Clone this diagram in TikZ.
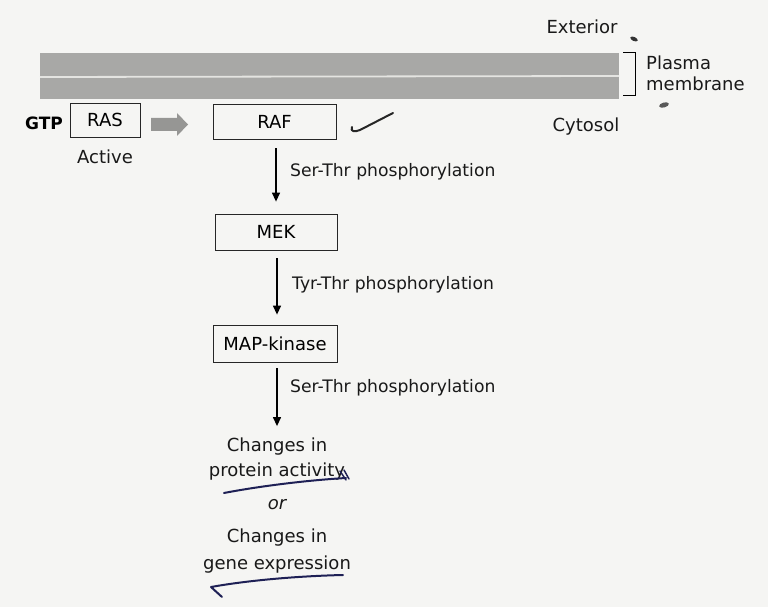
\documentclass[tikz,border=0pt]{standalone}
\usepackage{fontspec}
\setmainfont{DejaVu Sans}
\usetikzlibrary{arrows.meta}
\definecolor{paper}{RGB}{245,245,243}
\definecolor{membranegray}{RGB}{168,168,166}
\definecolor{membraneline}{RGB}{228,228,225}
\definecolor{inkblue}{RGB}{30,32,85}
\definecolor{arrowgray}{RGB}{150,150,148}
\begin{document}
\begin{tikzpicture}[x=1pt,y=-1pt,
  txt/.style={font=\fontsize{18}{20}\selectfont, inner sep=0pt, text=black!90},
  lab/.style={font=\fontsize{17.2}{20}\selectfont, inner sep=0pt, anchor=west, text=black!90},
  box/.style={draw=black!85, line width=0.8pt, inner sep=0pt, font=\fontsize{18}{20}\selectfont},
  flow/.style={-{Triangle[length=9pt,width=8pt]}, line width=1.3pt},
  pen/.style={line width=2pt, line cap=round, line join=round}]
\fill[paper] (0,0) rectangle (768,607);
\useasboundingbox (0,0) rectangle (768,607);
% membrane
\fill[membranegray] (40,53) rectangle (619,99);
\draw[membraneline, line width=1.8pt] (40,77) -- (619,76);
\coordinate (bt) at (623,53);
\coordinate (bb) at (623,96);
\draw[line width=1pt] (bt) -- ++(12,0) |- (bb);
\node[txt, anchor=west] (plasma) at (646,63) {Plasma};
\node[txt, anchor=west] (membr) at (646,84) {membrane};
\node[txt] (ext) at (582,27) {Exterior};
\node[txt] (cyto) at (586,127) {Cytosol};
% RAS / RAF
\node[font=\fontsize{17}{20}\selectfont\bfseries, inner sep=0pt] (gtp) at (44,123) {GTP};
\node[box, minimum width=70pt, minimum height=34pt] (ras) at (105,120) {RAS};
\node[txt] (active) at (105,157) {Active};
\coordinate (garrow) at (151,124.5);
\fill[arrowgray] (garrow) ++(0,-6.5) -- ++(26,0) -- ++(0,-5) -- ++(11,11.5) -- ++(-11,11.5) -- ++(0,-5) -- ++(-26,0) -- cycle;
\node[box, minimum width=123pt, minimum height=35pt] (raf) at (274.5,121.5) {RAF};
\node[box, minimum width=122pt, minimum height=36pt] (mek) at (276,232) {MEK};
\node[box, minimum width=124pt, minimum height=37pt] (map) at (275,343.5) {MAP-kinase};
\node[txt] (ch1) at (277,447) {Changes in};
\node[txt] (pa) at (277,472) {protein activity};
\node[txt, font=\fontsize{18}{20}\selectfont\itshape] (or) at (277,505) {or};
\node[txt] (ch2) at (277,538) {Changes in};
\node[txt] (ge) at (277,565) {gene expression};
% arrows
\draw[flow, shorten <=9pt, shorten >=12pt] (raf.south -| 276,0) -- (mek.north -| 276,0);
\draw[flow, shorten <=8pt, shorten >=10pt] (mek.south -| 277,0) -- (map.north -| 277,0);
\draw[flow, shorten <=6pt, shorten >=12pt] (map.south -| 277,0) -- (ch1.north -| 277,0);
\node[lab] (l1) at (290,172) {Ser-Thr phosphorylation};
\node[lab] (l2) at (292,285) {Tyr-Thr phosphorylation};
\node[lab] (l3) at (290,388) {Ser-Thr phosphorylation};
% pen marks
\draw[pen, black!85] (352,127) .. controls (350,132) and (355,132) .. (360,130) -- (393,113);
\draw[pen, inkblue] (224,493) .. controls (260,486) and (310,480) .. (346,478);
\draw[pen, inkblue, line width=1.5pt] (340,471) -- (346,480) (344,470) -- (349,479);
\draw[pen, inkblue] (343,575) .. controls (300,576) and (250,580) .. (211,587) -- (222,597);
% specks
\fill[black!80, rotate around={-25:(634,39)}] (634,39) ellipse (4pt and 2pt);
\fill[black!65, rotate around={15:(664,105)}] (664,105) ellipse (5pt and 2.5pt);
\end{tikzpicture}
\end{document}
